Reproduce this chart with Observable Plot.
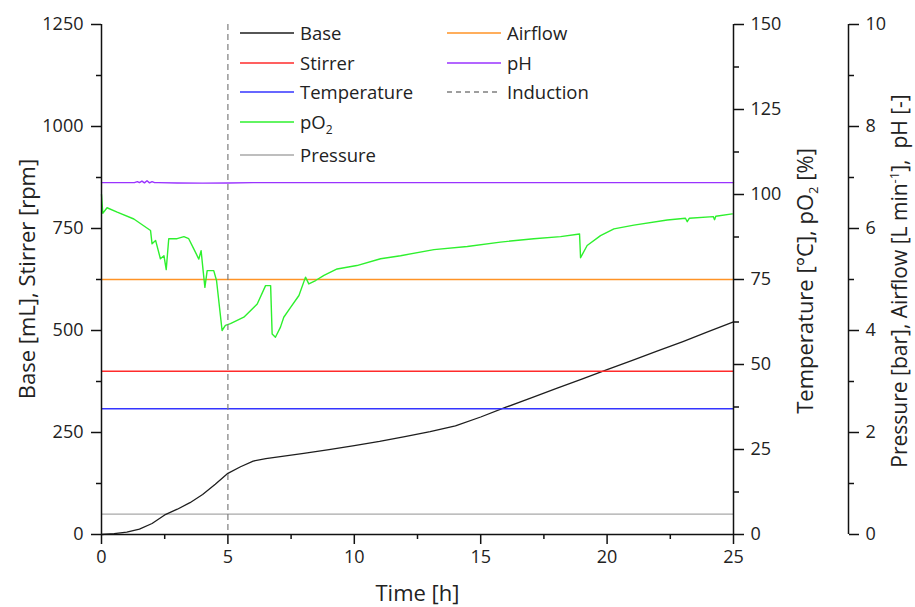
<!DOCTYPE html>
<html>
<head>
<meta charset="utf-8">
<script src="https://cdn.jsdelivr.net/npm/d3@7"></script>
<script src="https://cdn.jsdelivr.net/npm/@observablehq/plot@0.6"></script>
<style>
  body { margin: 0; background: #fff; }
  #wrap { position: relative; width: 915px; height: 607px; overflow: hidden; font-family: "Open Sans", sans-serif; color: #222; }
  .ytitle { position: absolute; transform: translate(-50%, -50%) rotate(-90deg); white-space: nowrap; font-size: 22px; line-height: 1; }
  .ytitle sub, .ytitle sup { font-size: 13px; line-height: 0; }
  .leg { position: absolute; font-size: 18.5px; line-height: 1; white-space: nowrap; display: flex; align-items: center; }
  .leg svg { margin-right: 6px; }
  .leg sub { font-size: 12px; line-height: 0; }
</style>
</head>
<body>
<div id="wrap"></div>
<script>
// ---- data ----
const timeBase = [0,0.5,1,1.5,2,2.5,3,3.5,4,4.5,5,5.5,6,6.5,7,8,9,10,11,12,13,14,15,16,17,18,19,20,21,22,23,24,25];
const baseMl   = [0,2,6,13,27,48,62,78,98,123,150,166,180,186,190,199,208,218,228,240,252,266,288,312,335,358,381,404,427,450,473,497,521];

const timePO2 = [0,0.05,0.22,0.62,1.28,1.94,2.0,2.14,2.33,2.47,2.56,2.66,2.99,3.26,3.45,3.65,3.85,3.94,4.02,4.09,4.18,4.44,4.55,4.77,4.9,5.1,5.63,6.16,6.49,6.69,6.75,6.88,7.08,7.21,7.48,7.81,8.07,8.2,8.47,8.8,9.32,10.1,11.04,11.83,13.15,14.47,15.78,17.1,18.16,18.91,18.95,19.21,19.74,20.27,21.06,22.38,23.1,23.17,23.25,24.2,24.25,24.3,24.95];
const pO2Pct  = [100,94.5,96.1,94.8,92.8,89.4,85.5,86.5,81.1,82,77.9,87,87,87.6,87,84,81,83.5,77.6,72.7,77.6,77.6,74.7,60,61.5,62,63.9,67.8,73.2,73.2,59,58,61,63.9,66.8,70.3,75.7,73.7,74.7,76.2,78.1,79.1,81.1,82,83.8,84.7,86,87,87.6,88.4,81.4,85,87.9,89.9,91,92.5,93,92,93,93.5,92.6,93.6,94.3];

const timePH = [0,1.3,1.42,1.5,1.6,1.7,1.8,1.9,2.0,2.1,2.25,3,4,5,6,25];
const pHVals = [6.9,6.9,6.92,6.9,6.93,6.895,6.935,6.895,6.92,6.9,6.9,6.893,6.89,6.893,6.9,6.9];

const stirrerRpm = 400;
const temperatureC = 37;
const airflowLmin = 5;
const pressureBar = 0.4;
const inductionTime = 5;

const xTicks = [0,5,10,15,20,25];
const xMinor = [2.5,7.5,12.5,17.5,22.5];
const leftTicks = [0,250,500,750,1000,1250];
const leftMinor = [125,375,625,875,1125];
const tempTicks = [0,25,50,75,100,125,150];
const tempMinor = [12.5,37.5,62.5,87.5,112.5,137.5];
const prTicks = [0,2,4,6,8,10];
const prMinor = [1,3,5,7,9];

// scale factors from right axes into the left axis units
const T = 1250 / 150;
const P = 1250 / 10;

const baseData = timeBase.map((t,i) => ({t, v: baseMl[i]}));
const po2Data = timePO2.map((t,i) => ({t, v: pO2Pct[i] * T}));
const phData = timePH.map((t,i) => ({t, v: pHVals[i] * P}));

const colors = {
  base: "#1e1e1e", stirrer: "#ff2b2b", temp: "#3434ff", po2: "#2ef02e",
  pressure: "#a8a8a8", airflow: "#ff9326", ph: "#9a33ff", induction: "#7f7f7f"
};

const axisStroke = {stroke: "#111", strokeWidth: 1.5};

const chart = Plot.plot({
  width: 915, height: 607,
  marginLeft: 101, marginRight: 182, marginTop: 24, marginBottom: 73,
  x: {domain: [0, 25]},
  y: {domain: [0, 1250]},
  style: {fontFamily: "Open Sans", fontSize: "18px", color: "#222", background: "white", overflow: "visible"},
  marks: [
    Plot.ruleY([pressureBar * P], {stroke: colors.pressure, strokeWidth: 1.2}),
    Plot.line(baseData, {x: "t", y: "v", stroke: colors.base, strokeWidth: 1.3}),
    Plot.ruleY([stirrerRpm], {stroke: colors.stirrer, strokeWidth: 1.4}),
    Plot.ruleY([temperatureC * T], {stroke: colors.temp, strokeWidth: 1.4}),
    Plot.ruleY([airflowLmin * P], {stroke: colors.airflow, strokeWidth: 1.4}),
    Plot.line(phData, {x: "t", y: "v", stroke: colors.ph, strokeWidth: 1.4}),
    Plot.line(po2Data, {x: "t", y: "v", stroke: colors.po2, strokeWidth: 1.4}),
    Plot.ruleX([inductionTime], {stroke: colors.induction, strokeWidth: 1.2, strokeDasharray: "6,4"}),

    // axis lines
    Plot.ruleX([0], axisStroke),
    Plot.ruleX([25], axisStroke),
    Plot.ruleX([25], {...axisStroke, dx: 115}),
    Plot.ruleY([0], axisStroke),

    // x axis
    Plot.axisX(xTicks, {anchor: "bottom", tickSize: 10, tickPadding: 6, tickFormat: d => String(d), label: null, strokeWidth: 1.5, stroke: "#111"}),
    Plot.axisX(xMinor, {anchor: "bottom", tickSize: 5, tickFormat: () => "", label: null, strokeWidth: 1.5, stroke: "#111"}),
    // left axis
    Plot.axisY(leftTicks, {anchor: "left", tickSize: 10, tickPadding: 8, tickFormat: d => String(d), label: null, strokeWidth: 1.5, stroke: "#111"}),
    Plot.axisY(leftMinor, {anchor: "left", tickSize: 5, tickFormat: () => "", label: null, strokeWidth: 1.5, stroke: "#111"}),
    // right axis: temperature / pO2
    Plot.axisY(tempTicks.map(v => v * T), {anchor: "right", tickSize: 10, tickPadding: 7, tickFormat: d => String(Math.round(d / T)), label: null, strokeWidth: 1.5, stroke: "#111"}),
    Plot.axisY(tempMinor.map(v => v * T), {anchor: "right", tickSize: 5, tickFormat: () => "", label: null, strokeWidth: 1.5, stroke: "#111"}),
    // far right axis: pressure / airflow / pH
    Plot.axisY(prTicks.map(v => v * P), {anchor: "right", dx: 115, tickSize: 10, tickPadding: 7, tickFormat: d => String(Math.round(d / P)), label: null, strokeWidth: 1.5, stroke: "#111"}),
    Plot.axisY(prMinor.map(v => v * P), {anchor: "right", dx: 115, tickSize: 5, tickFormat: () => "", label: null, strokeWidth: 1.5, stroke: "#111"}),

    Plot.text(["Time [h]"], {frameAnchor: "bottom", text: d => d, dy: 66, fontSize: 22, fill: "#222"})
  ]
});

const wrap = document.getElementById("wrap");
wrap.appendChild(chart);

// axis titles
function addTitle(html, cx, cy, size) {
  const d = document.createElement("div");
  d.className = "ytitle";
  d.innerHTML = html;
  d.style.left = cx + "px";
  d.style.top = cy + "px";
  if (size) d.style.fontSize = size + "px";
  wrap.appendChild(d);
}
addTitle("Base [mL], Stirrer [rpm]", 26, 279);
addTitle("Temperature [°C], pO<sub>2</sub> [%]", 804, 281);
addTitle("Pressure [bar], Airflow [L min<sup>-1</sup>],&nbsp; pH [-]", 899, 281, 21);

// legend
const legendItems = [
  {label: "Base", color: colors.base, x: 240, y: 33},
  {label: "Stirrer", color: colors.stirrer, x: 240, y: 63},
  {label: "Temperature", color: colors.temp, x: 240, y: 92},
  {label: "pO<sub>2</sub>", color: colors.po2, x: 240, y: 122},
  {label: "Pressure", color: colors.pressure, x: 240, y: 155},
  {label: "Airflow", color: colors.airflow, x: 447, y: 33},
  {label: "pH", color: colors.ph, x: 447, y: 63},
  {label: "Induction", color: colors.induction, x: 447, y: 92, dash: "5,4"}
];
for (const it of legendItems) {
  const d = document.createElement("div");
  d.className = "leg";
  d.style.left = it.x + "px";
  d.style.top = (it.y - 11) + "px";
  d.style.height = "22px";
  d.innerHTML = `<svg width="54" height="4"><line x1="0" y1="2" x2="54" y2="2" stroke="${it.color}" stroke-width="1.5" ${it.dash ? `stroke-dasharray="${it.dash}"` : ""}/></svg><span>${it.label}</span>`;
  wrap.appendChild(d);
}
</script>
</body>
</html>
